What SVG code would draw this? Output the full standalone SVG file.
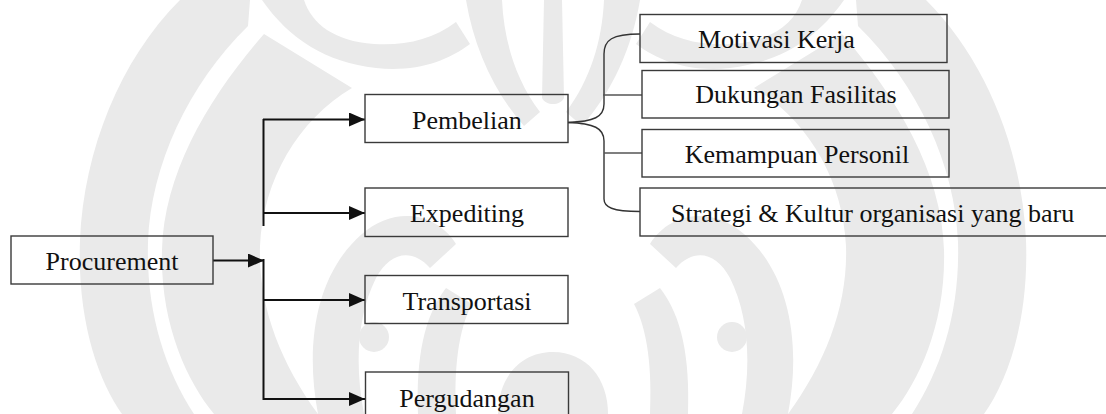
<svg xmlns="http://www.w3.org/2000/svg" width="1106" height="414" viewBox="0 0 1106 414">
  <style>
    .box { fill: none; stroke: #3a3a3a; stroke-width: 1.4; }
    .lbl { font-family: "Liberation Serif", "Times New Roman", serif; font-size: 26px; fill: #111; }
    .mid { text-anchor: middle; }
    .arrow { fill: none; stroke: #111; stroke-width: 2; }
    .thin { fill: none; stroke: #333; stroke-width: 1.4; }
    .grey { fill: none; stroke: #555; stroke-width: 1.4; }
    .wm { fill: #eaeaea; stroke: none; }
  </style>
  <defs>
    <marker id="head" viewBox="0 0 16 14" refX="16" refY="7" markerWidth="16" markerHeight="14" markerUnits="userSpaceOnUse" orient="auto">
      <path d="M0,0 L16,7 L0,14 Z" fill="#111"/>
    </marker>
    <!-- one half of the background emblem; mirrored for the other side -->
    <g id="emblem-half">
      <!-- outer wing -->
      <path class="wm" d="M180,0 C120,60 84,150 80,240 C77,320 98,380 122,414 L194,414 C164,368 146,310 148,242 C151,165 188,85 248,26 L250,0 Z"/>
      <!-- inner wing -->
      <path class="wm" d="M264,34 C210,96 164,172 162,250 C160,322 186,380 214,414 L318,414 C280,362 258,305 260,246 C263,180 298,120 352,88 Z"/>
      <!-- upper swoosh -->
      <path class="wm" d="M262,0 C290,40 326,62 376,68 C416,72 446,62 470,44 L456,22 C432,40 404,46 374,44 C334,41 312,24 304,0 Z"/>
      <!-- leaf beside the stalk -->
      <path class="wm" d="M466,0 C474,48 494,92 524,126 L540,112 C516,80 504,42 502,0 Z"/>
      <!-- lower letter form -->
      <path class="wm" d="M318,414 C304,340 318,272 362,234 C394,206 436,212 456,244 L430,268 C412,248 390,252 376,278 C358,314 354,362 364,414 Z"/>
      <circle class="wm" cx="374" cy="337" r="15"/>
      <path class="wm" d="M418,414 C416,358 424,316 446,288 L472,304 C458,330 454,370 456,414 Z"/>
    </g>
  </defs>

  <rect width="1106" height="414" fill="#ffffff"/>

  <!-- faint background emblem -->
  <g id="emblem">
    <use href="#emblem-half"/>
    <use href="#emblem-half" transform="translate(1106,0) scale(-1,1)"/>
    <path class="wm" d="M544,0 L562,0 L564,98 C560,106 546,106 542,98 Z"/>
    <path class="wm" d="M498,414 C498,378 520,352 553,352 C586,352 608,378 608,414 Z"/>
  </g>

  <!-- connectors -->
  <g id="connectors">
    <line class="arrow" x1="213" y1="260.5" x2="264" y2="260.5" marker-end="url(#head)"/>
    <line class="arrow" x1="263.5" y1="119" x2="263.5" y2="226"/>
    <line class="arrow" x1="263.5" y1="259" x2="263.5" y2="400"/>
    <line class="arrow" x1="263" y1="119.5" x2="365" y2="119.5" marker-end="url(#head)"/>
    <line class="arrow" x1="263" y1="213" x2="365" y2="213" marker-end="url(#head)"/>
    <line class="arrow" x1="263" y1="300" x2="365" y2="300" marker-end="url(#head)"/>
    <line class="arrow" x1="263" y1="399" x2="365" y2="399" marker-end="url(#head)"/>
    <path class="thin" d="M568,122.5 C594,121.5 604,117 604,104 L604,54 C604,40 612,34 640,34"/>
    <path class="thin" d="M568,122.5 C594,123.5 604,128 604,141 L604,199 C604,207 612,211.5 640,211.5"/>
    <line class="grey" x1="603" y1="95" x2="642" y2="95"/>
    <line class="grey" x1="604" y1="153" x2="642" y2="153"/>
  </g>

  <g id="procurement">
    <rect class="box" x="11" y="236" width="202" height="48"/>
    <text class="lbl mid" x="112" y="270">Procurement</text>
  </g>
  <g id="pembelian">
    <rect class="box" x="365" y="94.5" width="203" height="48"/>
    <text class="lbl mid" x="467" y="128.5">Pembelian</text>
  </g>
  <g id="expediting">
    <rect class="box" x="365" y="188" width="203" height="48.5"/>
    <text class="lbl mid" x="467" y="222">Expediting</text>
  </g>
  <g id="transportasi">
    <rect class="box" x="365" y="275.5" width="203" height="48"/>
    <text class="lbl mid" x="467" y="309.5">Transportasi</text>
  </g>
  <g id="pergudangan">
    <rect class="box" x="365.5" y="372" width="203" height="48"/>
    <text class="lbl mid" x="467" y="406.5">Pergudangan</text>
  </g>
  <g id="motivasi">
    <rect class="box" x="640" y="14.5" width="307" height="48"/>
    <text class="lbl" x="698" y="48">Motivasi Kerja</text>
  </g>
  <g id="dukungan">
    <rect class="box" x="642" y="70.5" width="307" height="47.5"/>
    <text class="lbl mid" x="796" y="103">Dukungan Fasilitas</text>
  </g>
  <g id="kemampuan">
    <rect class="box" x="642" y="129.5" width="307" height="47.5"/>
    <text class="lbl mid" x="797" y="162.5">Kemampuan Personil</text>
  </g>
  <g id="strategi">
    <rect class="box" x="640" y="188" width="470" height="48"/>
    <text class="lbl" x="671" y="221.5">Strategi &amp; Kultur organisasi yang baru</text>
  </g>
</svg>
